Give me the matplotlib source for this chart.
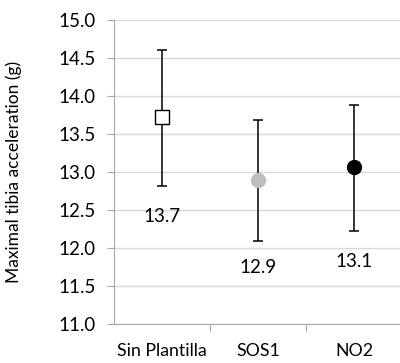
import matplotlib.pyplot as plt

plt.rcParams['font.family'] = ['Lato', 'DejaVu Sans']

categories = ['Sin Plantilla', 'SOS1', 'NO2']
means = [13.73, 12.9, 13.06]
err_low = [12.81, 12.09, 12.23]
err_high = [14.6, 13.68, 13.88]
labels = ['13.7', '12.9', '13.1']
label_y = [12.42, 11.74, 11.82]
yticks = [11.0, 11.5, 12.0, 12.5, 13.0, 13.5, 14.0, 14.5, 15.0]

styles = [
    dict(marker='s', mfc='white', mec='black', ms=10, mew=1.0),
    dict(marker='o', mfc='#bfbfbf', mec='#bfbfbf', ms=10, mew=1.0),
    dict(marker='o', mfc='black', mec='black', ms=10, mew=1.0),
]

fig = plt.figure(figsize=(4, 3.63), dpi=100)
ax = fig.add_axes([0.285, 0.1074, 0.72, 0.8376])

xs = [1, 2, 3]
for i, x in enumerate(xs):
    lo = means[i] - err_low[i]
    hi = err_high[i] - means[i]
    ax.errorbar([x], [means[i]], yerr=[[lo], [hi]], fmt='none',
                ecolor='black', elinewidth=1.1, capsize=3.6, capthick=1.1, zorder=3)
    ax.plot([x], [means[i]], linestyle='none', zorder=4, **styles[i])
    ax.text(x, label_y[i], labels[i], ha='center', va='center', fontsize=13.5)

ax.set_xlim(0.5, 3.5)
ax.set_ylim(11.0, 15.0)
ax.set_yticks(yticks)
ax.set_yticklabels(['%.1f' % v for v in yticks], fontsize=13.5)
ax.set_xticks([1.5, 2.5])
ax.set_xticklabels([])
ax.set_xticks(xs, minor=True)
ax.set_xticklabels(categories, minor=True, fontsize=12.8)
ax.tick_params(axis='x', which='minor', length=0, pad=14)
ax.tick_params(axis='x', which='major', length=5, color='#a6a6a6')
ax.tick_params(axis='y', length=5, color='#a6a6a6', pad=8)

ax.grid(axis='y', color='#d9d9d9', linewidth=1)
ax.set_axisbelow(True)
for s in ['top', 'right']:
    ax.spines[s].set_visible(False)
for s in ['left', 'bottom']:
    ax.spines[s].set_color('#a6a6a6')
ax.set_ylabel('Maximal tibia acceleration (g)', fontsize=12.5)
ax.yaxis.set_label_coords(-0.32, 0.5)

fig.savefig('out.png', dpi=100)
